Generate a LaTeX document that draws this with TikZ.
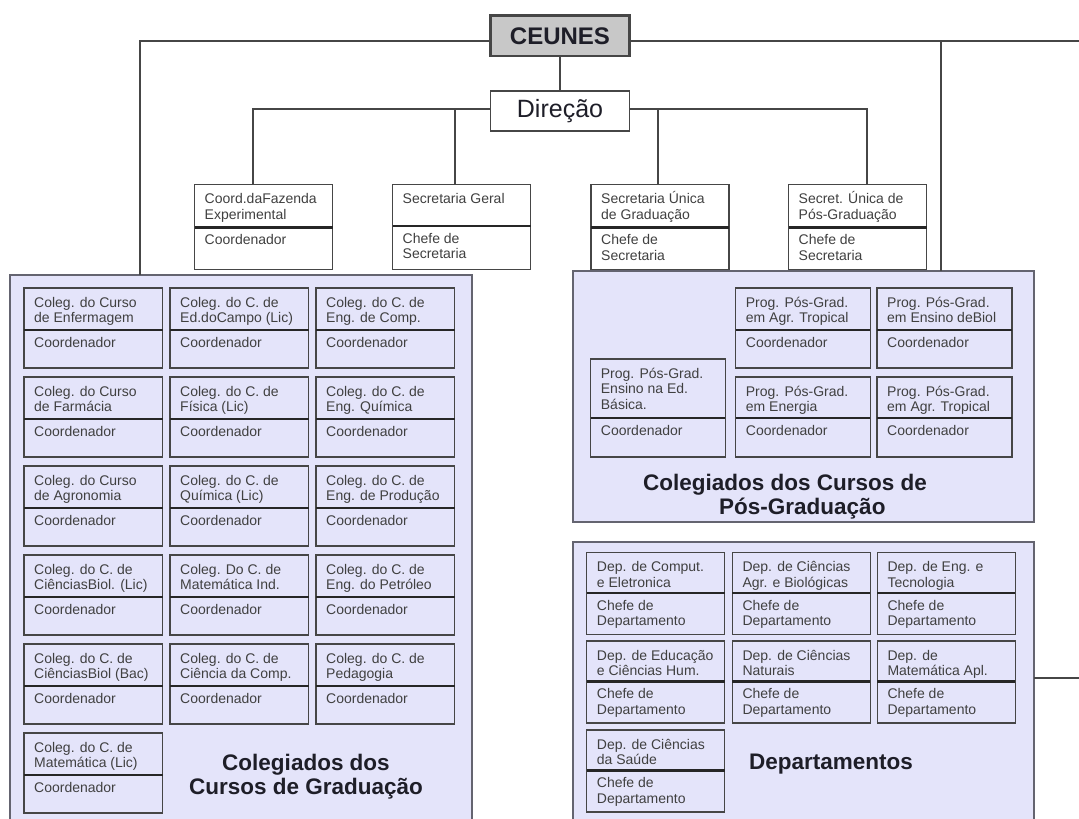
\documentclass[tikz,border=0pt]{standalone}
\usepackage{fontspec}
\setmainfont{Liberation Sans}
\definecolor{lav}{RGB}{228,228,250}
\definecolor{bord}{RGB}{100,100,112}
\definecolor{dk}{RGB}{70,70,70}
\definecolor{txt}{RGB}{64,64,64}
\definecolor{ttl}{RGB}{30,30,40}
\definecolor{gfill}{RGB}{200,200,200}
\newcommand\orgbox[8]{%
  \node[ibox, minimum width=#4pt, minimum height=#5pt] (#1) at (#2,#3) {};
  \draw[divline] ([yshift=-#6pt]#1.north west) -- ([yshift=-#6pt]#1.north east);
  \node[itext] (#1t) at ([xshift=10pt,yshift=-6pt]#1.north west) {\rule{0pt}{13pt}#7};
  \node[itext] (#1s) at ([xshift=10pt,yshift=-#6pt-4pt]#1.north west) {\rule{0pt}{13pt}#8};
}
\begin{document}
\begin{tikzpicture}[x=1pt,y=-1pt,
  conn/.style={draw=dk, line width=2pt},
  bigbox/.style={draw=bord, line width=2pt, fill=lav, anchor=north west, inner sep=0, outer sep=0},
  ibox/.style={draw=dk, line width=1.4pt, anchor=north west, inner sep=0, outer sep=0},
  divline/.style={draw=black!85, line width=2.4pt},
  itext/.style={anchor=north west, inner sep=0, align=left, text=txt, font=\fontsize{14}{15.5}\selectfont},
  bigtitle/.style={inner sep=0, text=ttl, font=\bfseries\fontsize{22.5}{24}\selectfont},
  topbox/.style={draw=dk, inner sep=0, outer sep=0, minimum width=139pt, text=ttl},
]
\useasboundingbox (0,0) rectangle (1079,819);
\fill[white] (0,0) rectangle (1079,819);

% large containers
\node[bigbox, minimum width=462pt, minimum height=560pt] (grad) at (10,275) {};
\node[bigbox, minimum width=461pt, minimum height=251pt] (pos) at (573,271) {};
\node[bigbox, minimum width=461pt, minimum height=290pt] (dep) at (573,542) {};

% head nodes
\node[topbox, line width=2.2pt, fill=gfill, minimum height=40.5pt, font=\bfseries\fontsize{24}{26}\selectfont] (ceunes) at (560,35.75) {CEUNES};
\node[topbox, line width=1.8pt, fill=white, minimum height=40pt, font=\fontsize{25}{27}\selectfont] (direcao) at (560,111) {Direção};

% top row boxes
\orgbox{coord}{194.5}{184.6}{138}{85}{43}{Coord.daFazenda\\Experimental}{Coordenador}
\orgbox{secg}{392.5}{184.6}{138}{85}{41.5}{Secretaria Geral}{Chefe de\\Secretaria}
\orgbox{secu}{591}{184.6}{138}{85}{43}{Secretaria Única\\de Graduação}{Chefe de\\Secretaria}
\orgbox{secp}{788.5}{184.6}{138}{85}{43}{Secret. Única de\\Pós-Graduação}{Chefe de\\Secretaria}

% graduation colleges
\orgbox{g11}{24}{288}{138.5}{80}{42}{Coleg. do Curso\\de Enfermagem}{Coordenador}
\orgbox{g12}{170}{288}{138.5}{80}{42}{Coleg. do C. de\\Ed.doCampo (Lic)}{Coordenador}
\orgbox{g13}{316}{288}{138.5}{80}{42}{Coleg. do C. de\\Eng. de Comp.}{Coordenador}
\orgbox{g21}{24}{377}{138.5}{80}{42}{Coleg. do Curso\\de Farmácia}{Coordenador}
\orgbox{g22}{170}{377}{138.5}{80}{42}{Coleg. do C. de\\Física (Lic)}{Coordenador}
\orgbox{g23}{316}{377}{138.5}{80}{42}{Coleg. do C. de\\Eng. Química}{Coordenador}
\orgbox{g31}{24}{466}{138.5}{80}{42}{Coleg. do Curso\\de Agronomia}{Coordenador}
\orgbox{g32}{170}{466}{138.5}{80}{42}{Coleg. do C. de\\Química (Lic)}{Coordenador}
\orgbox{g33}{316}{466}{138.5}{80}{42}{Coleg. do C. de\\Eng. de Produção}{Coordenador}
\orgbox{g41}{24}{555}{138.5}{80}{42}{Coleg. do C. de\\CiênciasBiol. (Lic)}{Coordenador}
\orgbox{g42}{170}{555}{138.5}{80}{42}{Coleg. Do C. de\\Matemática Ind.}{Coordenador}
\orgbox{g43}{316}{555}{138.5}{80}{42}{Coleg. do C. de\\Eng. do Petróleo}{Coordenador}
\orgbox{g51}{24}{644}{138.5}{80}{42}{Coleg. do C. de\\CiênciasBiol (Bac)}{Coordenador}
\orgbox{g52}{170}{644}{138.5}{80}{42}{Coleg. do C. de\\Ciência da Comp.}{Coordenador}
\orgbox{g53}{316}{644}{138.5}{80}{42}{Coleg. do C. de\\Pedagogia}{Coordenador}
\orgbox{g61}{24}{733}{138.5}{80}{42}{Coleg. do C. de\\Matemática (Lic)}{Coordenador}

% post-graduation programs
\orgbox{pa}{735.7}{288}{134.5}{80}{42}{Prog. Pós-Grad.\\em Agr. Tropical}{Coordenador}
\orgbox{pb}{877}{288}{135}{80}{42}{Prog. Pós-Grad.\\em Ensino deBiol}{Coordenador}
\orgbox{pc}{735.7}{377}{134.5}{80}{41}{Prog. Pós-Grad.\\em Energia}{Coordenador}
\orgbox{pd}{877}{377}{135}{80}{41}{Prog. Pós-Grad.\\em Agr. Tropical}{Coordenador}
\orgbox{pl}{590.7}{359}{134.5}{98}{59}{Prog. Pós-Grad.\\Ensino na Ed.\\Básica.}{Coordenador}

% departments
\orgbox{d11}{586.7}{552.5}{138}{82}{40.5}{Dep. de Comput.\\e Eletronica}{Chefe de\\Departamento}
\orgbox{d12}{732.3}{552.5}{138}{82}{40.5}{Dep. de Ciências\\Agr. e Biológicas}{Chefe de\\Departamento}
\orgbox{d13}{877.3}{552.5}{138}{82}{40.5}{Dep. de Eng. e\\Tecnologia}{Chefe de\\Departamento}
\orgbox{d21}{586.7}{641}{138}{82}{40.5}{Dep. de Educação\\e Ciências Hum.}{Chefe de\\Departamento}
\orgbox{d22}{732.3}{641}{138}{82}{40.5}{Dep. de Ciências\\Naturais}{Chefe de\\Departamento}
\orgbox{d23}{877.3}{641}{138}{82}{40.5}{Dep. de\\Matemática Apl.}{Chefe de\\Departamento}
\orgbox{d31}{586.7}{730}{138}{82}{40.5}{Dep. de Ciências\\da Saúde}{Chefe de\\Departamento}

% container titles
\node[bigtitle, anchor=north, align=center] (gradt) at (306,754) {Colegiados dos\\Cursos de Graduação};
\node[bigtitle, anchor=north west, align=left] (post) at (643,474) {Colegiados dos Cursos de\\\hspace*{76pt}Pós-Graduação};
\node[bigtitle] (dept) at (831,764) {Departamentos};

% connectors
\coordinate (tl) at (140,41.3);
\coordinate (tr) at (940.5,41.3);
\coordinate (te) at (1079,41.3);
\draw[conn] (ceunes.west |- tl) -- (tl) -- (tl |- grad.north);
\draw[conn] (ceunes.east |- tl) -- (te);
\draw[conn] (tr) -- (tr |- pos.north);
\draw[conn] (ceunes.south) -- (direcao.north);
\coordinate (dl) at (253,108.5);
\coordinate (b2) at (455,108.5);
\coordinate (b3) at (657.6,108.5);
\coordinate (dr) at (867,108.5);
\draw[conn] (direcao.west |- dl) -- (dl) -- (dl |- coord.north);
\draw[conn] (b2) -- (b2 |- secg.north);
\draw[conn] (direcao.east |- dr) -- (dr) -- (dr |- secp.north);
\draw[conn] (b3) -- (b3 |- secu.north);
\coordinate (de) at (1079,678);
\draw[conn, line width=1.3pt] (dep.east |- de) -- (de);
\end{tikzpicture}
\end{document}
